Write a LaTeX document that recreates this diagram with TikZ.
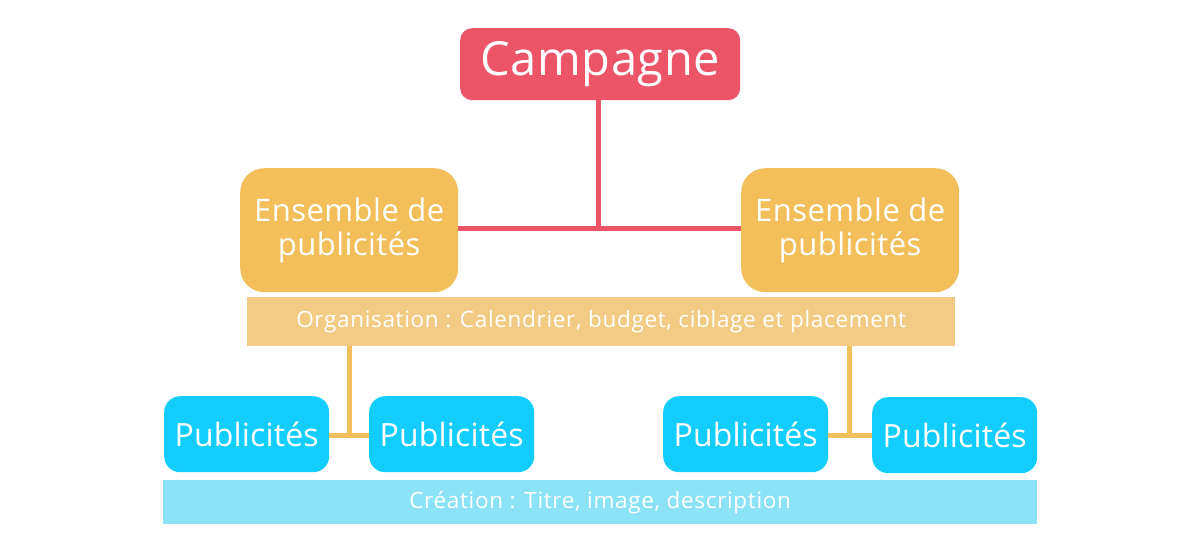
\documentclass[tikz,border=0pt]{standalone}
\usepackage{fontspec}
\setmainfont{Open Sans}
\definecolor{cred}{HTML}{EC5468}
\definecolor{corange}{HTML}{F2BF5A}
\definecolor{clorange}{HTML}{F3CB84}
\definecolor{cblue}{HTML}{14CDFF}
\definecolor{clblue}{HTML}{8CE3F8}
\tikzset{
  box/.style={inner sep=0pt, text=white, align=center, anchor=north west},
  redline/.style={draw=cred, line width=5pt},
  orline/.style={draw=corange, line width=5pt},
}
\begin{document}
\begin{tikzpicture}[x=1pt,y=-1pt]
\useasboundingbox (0,0) rectangle (1200,558);
% Campagne
\node[box, fill=cred, rounded corners=12pt, minimum width=280pt, minimum height=72pt,
  font=\fontsize{47}{52}\selectfont\addfontfeature{LetterSpace=1.5}] (camp) at (460,28) {Campagne};
% Ensembles
\node[box, fill=corange, rounded corners=24pt, minimum width=218pt, minimum height=124pt,
  font=\fontsize{31}{34}\selectfont\addfontfeature{LetterSpace=1.5}] (ensL) at (240,168) {Ensemble de\\publicités};
\node[box, fill=corange, rounded corners=24pt, minimum width=218pt, minimum height=124pt,
  font=\fontsize{31}{34}\selectfont\addfontfeature{LetterSpace=1.5}] (ensR) at (741,168) {Ensemble de\\publicités};
% Organisation bar
\node[box, fill=clorange, minimum width=708pt, minimum height=49pt,
  font=\fontsize{22.5}{26}\selectfont\addfontfeature{LetterSpace=3}] (org) at (247,297) {Organisation : Calendrier, budget, ciblage et placement};
% Publicites
\node[box, fill=cblue, rounded corners=16pt, minimum width=165pt, minimum height=76pt,
  font=\fontsize{32}{36}\selectfont\addfontfeature{LetterSpace=0.5}] (p1) at (164,396) {Publicités};
\node[box, fill=cblue, rounded corners=16pt, minimum width=165pt, minimum height=76pt,
  font=\fontsize{32}{36}\selectfont\addfontfeature{LetterSpace=0.5}] (p2) at (369,396) {Publicités};
\node[box, fill=cblue, rounded corners=16pt, minimum width=165pt, minimum height=76pt,
  font=\fontsize{32}{36}\selectfont\addfontfeature{LetterSpace=0.5}] (p3) at (663,396) {Publicités};
\node[box, fill=cblue, rounded corners=16pt, minimum width=165pt, minimum height=76pt,
  font=\fontsize{32}{36}\selectfont\addfontfeature{LetterSpace=0.5}] (p4) at (872,397) {Publicités};
% Creation bar
\node[box, fill=clblue, minimum width=874pt, minimum height=44pt,
  font=\fontsize{22.5}{26}\selectfont\addfontfeature{LetterSpace=3}] (cre) at (163,480) {Création : Titre, image, description};
% connectors
\coordinate (rj) at (598,228);
\draw[redline] (camp.south -| rj) -- (rj);
\draw[redline] (ensL.east |- rj) -- (ensR.west |- rj);
\coordinate (oj1) at (349,435);
\coordinate (oj2) at (849,435);
\draw[orline] (org.south -| oj1) -- (oj1);
\draw[orline] (p1.east |- oj1) -- (p2.west |- oj1);
\draw[orline] (org.south -| oj2) -- (oj2);
\draw[orline] (p3.east |- oj2) -- (p4.west |- oj2);
\end{tikzpicture}
\end{document}
